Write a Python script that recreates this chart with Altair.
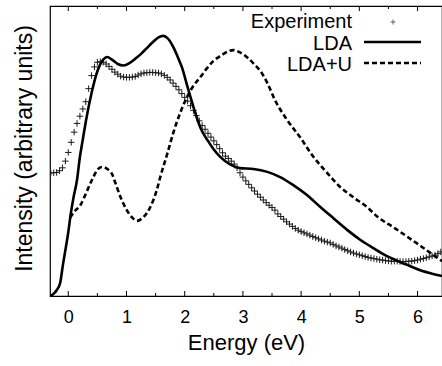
import altair as alt
import pandas as pd

# ---------------- data ----------------
lda_x = [-0.31, -0.25, -0.2, -0.14, -0.09, -0.04, 0.0, 0.04, 0.09, 0.15, 0.2, 0.25, 0.3, 0.4, 0.5,
         0.6, 0.67, 0.75, 0.85, 0.95, 1.05, 1.15, 1.25, 1.35, 1.45, 1.55, 1.63, 1.7, 1.8, 1.9,
         1.95, 2.05, 2.1, 2.2, 2.27, 2.4, 2.49, 2.61, 2.78, 2.95, 3.18, 3.42, 3.64, 3.86, 4.1,
         4.33, 4.55, 4.79, 5.02, 5.24, 5.45, 5.67, 5.85, 6.07, 6.25, 6.42]
lda_y = [0, 0.8, 2, 4.5, 11, 17, 22, 28, 34, 40, 48, 54, 60, 70, 77.5,
         81.5, 82.4, 81.5, 80, 79.5, 80.3, 81.8, 83.5, 85.5, 87.5, 89.2, 89.7, 89, 86, 81.5,
         79, 72, 68.6, 62, 58, 53.5, 50.8, 48, 45.4, 44.1, 43.8, 42.8, 41, 38.3, 34.8,
         30.7, 26.9, 22.8, 19.3, 16.5, 14, 12, 10.5, 8.7, 7.7, 6.9]

ldau_x = [0.03, 0.1, 0.21, 0.33, 0.43, 0.5, 0.58, 0.67, 0.76, 0.8, 0.9, 1.0, 1.1, 1.18, 1.27,
          1.35, 1.45, 1.52, 1.58, 1.7, 1.8, 1.92, 2.04, 2.15, 2.27, 2.38, 2.49, 2.63, 2.75, 2.84,
          2.95, 3.09, 3.2, 3.32, 3.43, 3.55, 3.76, 3.98, 4.21, 4.45, 4.67, 4.9, 5.13, 5.32, 5.6,
          6.07, 6.42]
ldau_y = [27, 29, 31.4, 36.6, 41, 43.5, 44.5, 43.8, 41.7, 39.5, 34, 29.8, 27, 25.9, 26.8,
          28.6, 32.5, 36.5, 41, 49, 56, 63, 68.6, 72.5, 75.5, 78.5, 81, 83, 84.4, 84.8,
          84, 82, 79.8, 77, 73, 67.6, 60.7, 54.8, 48, 42.4, 37.6, 34, 30.7, 27.2, 23.5,
          17, 12]

exp_x = [-0.30, -0.25, -0.20, -0.15, -0.10, -0.05, 0.00, 0.05, 0.10, 0.15, 0.20, 0.25, 0.30, 0.35,
         0.40, 0.45, 0.50, 0.55, 0.60, 0.65, 0.70, 0.75, 0.80, 0.85, 0.90, 0.95, 1.00, 1.05,
         1.10, 1.15, 1.20, 1.25, 1.30, 1.35, 1.40, 1.45, 1.50, 1.55, 1.60, 1.65, 1.70, 1.75,
         1.80, 1.85, 1.90, 1.95, 2.00, 2.05, 2.10, 2.15, 2.20, 2.25, 2.30, 2.35, 2.40, 2.45,
         2.50, 2.55, 2.60, 2.65, 2.70, 2.75, 2.80, 2.85, 2.90, 2.95, 3.00, 3.05, 3.10, 3.15,
         3.20, 3.25, 3.30, 3.35, 3.40, 3.45, 3.50, 3.55, 3.60, 3.65, 3.70, 3.75, 3.80, 3.85,
         3.90, 3.95, 4.00, 4.05, 4.10, 4.15, 4.20, 4.25, 4.30, 4.35, 4.40, 4.45, 4.50, 4.55,
         4.60, 4.65, 4.70, 4.75, 4.80, 4.85, 4.90, 4.95, 5.00, 5.05, 5.10, 5.15, 5.20, 5.25,
         5.30, 5.35, 5.40, 5.45, 5.50, 5.55, 5.60, 5.65, 5.70, 5.75, 5.80, 5.85, 5.90, 5.95,
         6.00, 6.05, 6.10, 6.15, 6.20, 6.25, 6.30, 6.35, 6.40]
exp_y = [42.4, 42.5, 42.6, 43.2, 44.2, 46.5, 49.5, 53, 56.5, 59.5, 62, 64.5, 67, 71.5,
         76, 79, 80.6, 80.8, 80.6, 80, 79.2, 78.2, 77.2, 76.5, 75.8, 75.5, 75.4, 75.4,
         75.5, 75.7, 76.2, 76.6, 76.9, 77, 77.1, 77.1, 77, 76.9, 76.6, 76.1, 75.4, 74.5,
         73.4, 72.3, 71.1, 69.8, 68.5, 67.2, 65.6, 64, 62.2, 60.4, 58.8, 57.5, 56.1, 54.8,
         53.5, 52.2, 50.8, 49.4, 48.2, 47.4, 46.5, 45.5, 44.2, 42.5, 41, 39.7, 38.5, 37.3,
         36.2, 35.1, 34.1, 33.1, 32.2, 31.3, 30.5, 29.6, 28.3, 27.4, 26.5, 25.6, 24.8, 24,
         23.3, 22.7, 22.2, 21.8, 21.4, 21, 20.5, 20.1, 19.7, 19.3, 18.9, 18.6, 18.3, 17.8,
         17.3, 16.9, 16.5, 16, 15.6, 15.2, 14.8, 14.5, 14.2, 13.9, 13.6, 13.3, 13.1, 12.9,
         12.7, 12.5, 12.4, 12.2, 12.1, 12, 12, 12, 11.9, 11.9, 11.9, 12, 12, 12.2,
         12.4, 12.7, 12.9, 13.2, 13.5, 13.8, 14.1, 14.6, 15.2]

major_ticks = [0, 1, 2, 3, 4, 5, 6]
minor_ticks = [0.5, 1.5, 2.5, 3.5, 4.5, 5.5]

legend_labels = ["Experiment", "LDA", "LDA+U"]

# ---------------- layout ----------------
W, H = 392, 290
FONT = "Liberation Sans"
XDOM = [-0.314, 6.42]
YDOM = [0, 100]

xs = alt.Scale(domain=XDOM, nice=False, zero=False)
ys = alt.Scale(domain=YDOM, nice=False, zero=False)

lda_df = pd.DataFrame({"x": lda_x, "y": lda_y})
ldau_df = pd.DataFrame({"x": ldau_x, "y": ldau_y})
exp_df = pd.DataFrame({"x": exp_x, "y": exp_y})
maj_df = pd.DataFrame({"t": major_ticks})
min_df = pd.DataFrame({"t": minor_ticks})
one = pd.DataFrame({"a": [0]})

CROSS = "M-1,0L1,0M0,-1L0,1"

xaxis = alt.Axis(values=major_ticks, ticks=False, grid=False, domain=False,
                 labelFont=FONT, labelFontSize=18, labelColor="black", labelPadding=12,
                 title="Energy (eV)", titleFont=FONT, titleFontSize=22, titleFontWeight="normal",
                 titleColor="black", titlePadding=6, format="d")
yaxis = alt.Axis(labels=False, ticks=False, grid=False, domain=False,
                 title="Intensity (arbitrary units)", titleFont=FONT, titleFontSize=23,
                 titleFontWeight="normal", titleColor="black", titlePadding=14, titleY=142)

exp_layer = alt.Chart(exp_df).mark_point(
    shape=CROSS, size=42, filled=False, stroke="#1a1a1a", strokeWidth=1, opacity=1, clip=True
).encode(
    x=alt.X("x:Q", scale=xs, axis=xaxis),
    y=alt.Y("y:Q", scale=ys, axis=yaxis),
)

lda_layer = alt.Chart(lda_df).mark_line(color="black", strokeWidth=2.6, clip=True,
                                        interpolate="monotone").encode(
    x=alt.X("x:Q", scale=xs), y=alt.Y("y:Q", scale=ys)
)
ldau_layer = alt.Chart(ldau_df).mark_line(color="black", strokeWidth=2.6, strokeDash=[5, 3],
                                          clip=True, interpolate="monotone").encode(
    x=alt.X("x:Q", scale=xs), y=alt.Y("y:Q", scale=ys)
)

# inward ticks (bottom & top)
maj_bot = alt.Chart(maj_df).mark_rule(color="black", strokeWidth=1).encode(
    x=alt.X("t:Q", scale=xs), y=alt.value(H), y2=alt.value(H - 5))
maj_top = alt.Chart(maj_df).mark_rule(color="black", strokeWidth=1).encode(
    x=alt.X("t:Q", scale=xs), y=alt.value(0), y2=alt.value(5))
min_bot = alt.Chart(min_df).mark_rule(color="black", strokeWidth=1).encode(
    x=alt.X("t:Q", scale=xs), y=alt.value(H), y2=alt.value(H - 3))
min_top = alt.Chart(min_df).mark_rule(color="black", strokeWidth=1).encode(
    x=alt.X("t:Q", scale=xs), y=alt.value(0), y2=alt.value(3))

# legend (manual, labels on the left of symbols)
leg_text = []
for lab, yb in zip(legend_labels, [22, 44, 65]):
    leg_text.append(
        alt.Chart(one).mark_text(align="right", baseline="alphabetic", font=FONT, fontSize=20,
                                 color="black").encode(
            x=alt.value(302), y=alt.value(yb), text=alt.value(lab))
    )
leg_cross = alt.Chart(one).mark_point(shape=CROSS, size=25, filled=False, stroke="#222",
                                      strokeWidth=1).encode(x=alt.value(343), y=alt.value(16))
leg_lda = alt.Chart(one).mark_rule(color="black", strokeWidth=2.6).encode(
    x=alt.value(314), x2=alt.value(371), y=alt.value(36))
leg_ldau = alt.Chart(one).mark_rule(color="black", strokeWidth=2.6, strokeDash=[5, 3]).encode(
    x=alt.value(314), x2=alt.value(371), y=alt.value(57))

chart = alt.layer(
    exp_layer, lda_layer, ldau_layer, maj_bot, maj_top, min_bot, min_top,
    *leg_text, leg_cross, leg_lda, leg_ldau
).properties(
    width=W, height=H,
    autosize=alt.AutoSizeParams(type="none"),
    padding={"left": 50, "top": 6, "right": 0, "bottom": 70},
    background="white",
).configure_view(stroke="black", strokeWidth=1.2)

chart.save("out.html", embed_options={"renderer": "svg", "actions": False})
